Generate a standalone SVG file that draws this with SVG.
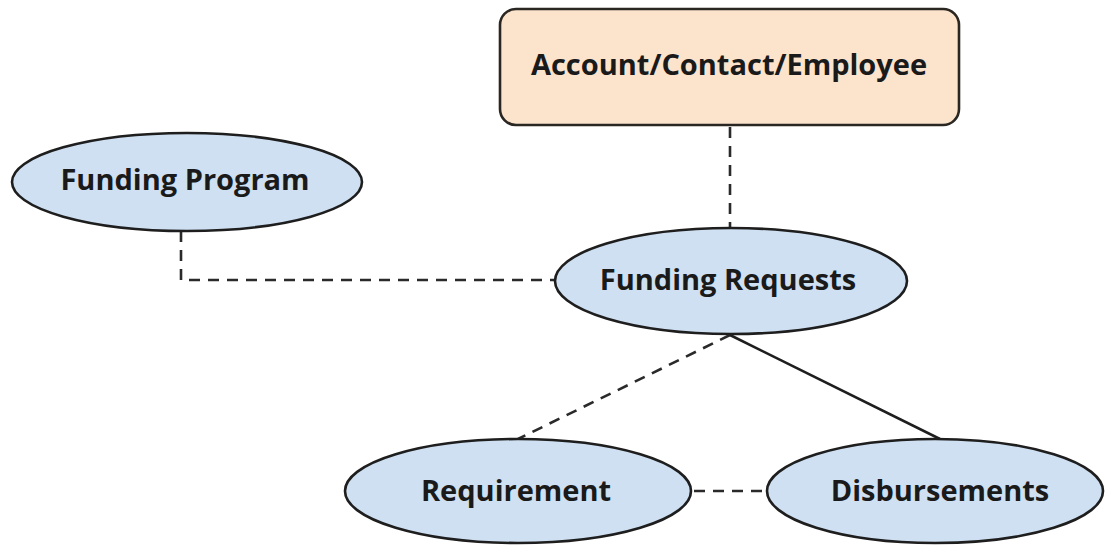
<svg xmlns="http://www.w3.org/2000/svg" width="1106" height="547" viewBox="0 0 1106 547">
<style>
.bg{fill:#ffffff}
.ent{fill:#cfe0f2;stroke:#1e1e1e;stroke-width:2.6}
.box{fill:#fce3cc;stroke:#2a2622;stroke-width:2.6}
.lbl{font-family:"Open Sans","Noto Sans",sans-serif;font-weight:bold;font-size:29px;fill:#1a1a1a;text-anchor:middle}
.dash{fill:none;stroke:#2a2a2a;stroke-width:2.6;stroke-dasharray:11 8}
.solid{fill:none;stroke:#1e1e1e;stroke-width:2.6}
</style>
<rect class="bg" x="0" y="0" width="1106" height="547"/>
<g id="connectors">
<path class="dash" d="M730 127 V228"/>
<path class="dash" d="M181 231 V280 H556"/>
<path class="dash" d="M730 335 L518 439"/>
<path class="solid" d="M730 335 L940 439"/>
<path class="dash" d="M694 491 H767"/>
</g>
<g id="account">
<rect class="box" x="500" y="9" width="459" height="116" rx="16"/>
<text class="lbl" x="729" y="75">Account/Contact/Employee</text>
</g>
<g id="funding-program">
<ellipse class="ent" cx="187" cy="182" rx="175" ry="49"/>
<text class="lbl" x="185" y="190">Funding Program</text>
</g>
<g id="funding-requests">
<ellipse class="ent" cx="731" cy="281" rx="176" ry="53"/>
<text class="lbl" x="728" y="290">Funding Requests</text>
</g>
<g id="requirement">
<ellipse class="ent" cx="518" cy="491" rx="173" ry="52"/>
<text class="lbl" x="516" y="501">Requirement</text>
</g>
<g id="disbursements">
<ellipse class="ent" cx="935" cy="491" rx="168" ry="52"/>
<text class="lbl" x="940" y="501">Disbursements</text>
</g>
</svg>
